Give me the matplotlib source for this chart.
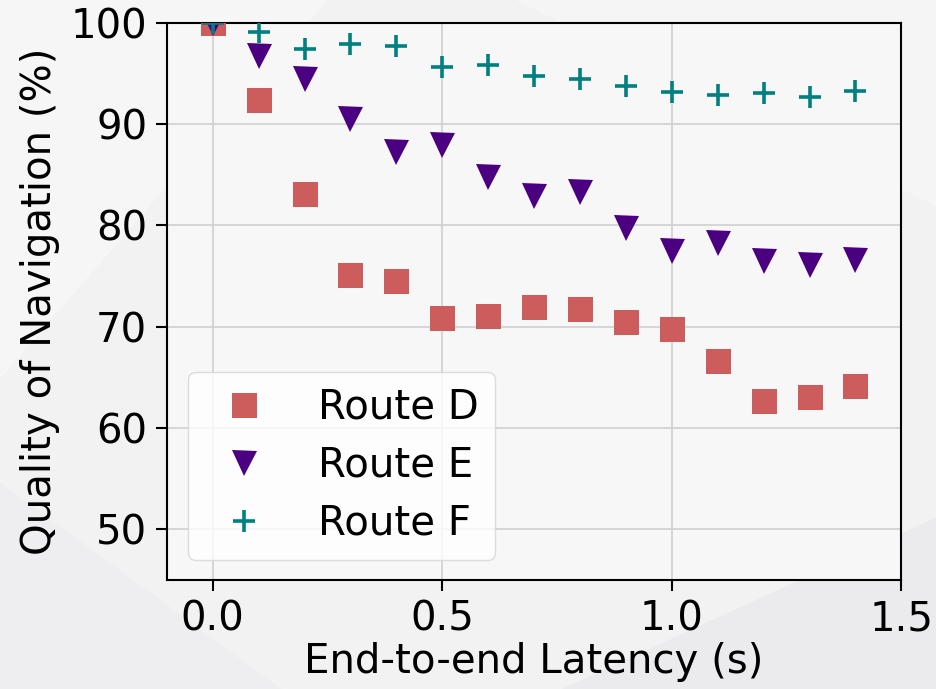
import matplotlib
matplotlib.use("Agg")
import matplotlib.pyplot as plt
from matplotlib.patches import Polygon

latency = [0.0, 0.1, 0.2, 0.3, 0.4, 0.5, 0.6, 0.7, 0.8, 0.9, 1.0, 1.1, 1.2, 1.3, 1.4]
route_d = [100.0, 92.4, 83.1, 75.1, 74.5, 70.9, 71.1, 72.0, 71.8, 70.5, 69.8, 66.6, 62.7, 63.1, 64.2]
route_e = [100.0, 96.7, 94.4, 90.5, 87.2, 87.9, 84.8, 82.9, 83.3, 79.7, 77.5, 78.3, 76.5, 76.1, 76.6]
route_f = [100.0, 99.1, 97.4, 97.9, 97.7, 95.6, 95.8, 94.7, 94.4, 93.8, 93.2, 92.9, 93.1, 92.7, 93.3]
labels = ["Route D", "Route E", "Route F"]
xticks = [0.0, 0.5, 1.0, 1.5]
yticks = [50, 60, 70, 80, 90, 100]

plt.rcParams['font.family'] = ['DejaVu Sans']
fig = plt.figure(figsize=(9.37, 6.89), dpi=100, facecolor='#f2f2f3')

# faint decorative background shapes
for pts, c in [([(0, 0.45), (0.35, 1.0), (0, 1.0)], '#f6f6f7'),
               ([(0, 0), (0, 0.3), (0.3, 0.0)], '#eeeef0'),
               ([(0.6, 0.0), (1.0, 0.0), (1.0, 0.25)], '#ebebed'),
               ([(0.55, 1.0), (1.0, 1.0), (1.0, 0.7)], '#f5f5f6')]:
    fig.patches.append(Polygon(pts, closed=True, transform=fig.transFigure,
                               facecolor=c, edgecolor='none', zorder=-10))

ax = fig.add_axes([0.178, 0.158, 0.784, 0.809])
ax.set_facecolor('#f7f7f8')

ax.plot(latency, route_d, linestyle='none', marker='s', markersize=18,
        color='#cd5c5c', markeredgewidth=0, label=labels[0], zorder=3)
ax.plot(latency, route_e, linestyle='none', marker='v', markersize=18,
        color='#4b0082', markeredgewidth=0, label=labels[1], zorder=3)
ax.plot(latency, route_f, linestyle='none', marker='+', markersize=16,
        color='#008080', markeredgewidth=2.6, label=labels[2], zorder=3)

ax.set_xlim(-0.1, 1.5)
ax.set_ylim(45, 100)
ax.set_xticks(xticks)
ax.set_xticklabels([f"{t:.1f}" for t in xticks])
ax.set_yticks(yticks)
ax.grid(True, color='#d0d0d2', linewidth=1.2, zorder=0)
ax.set_axisbelow(True)
ax.tick_params(axis='both', labelsize=29, length=8, width=1.5, direction='out', pad=6)
for s in ax.spines.values():
    s.set_linewidth(1.5)
    s.set_color('black')

ax.set_xlabel("End-to-end Latency (s)", fontsize=29, labelpad=2)
ax.set_ylabel("Quality of Navigation (%)", fontsize=29, labelpad=8)

leg = ax.legend(loc='lower left', fontsize=29, handletextpad=0.83, borderpad=0.4,
                labelspacing=0.45, framealpha=0.8, edgecolor='#d5d5d8',
                borderaxespad=0, bbox_to_anchor=(0.0286, 0.036))

fig.savefig("out.png", dpi=100, facecolor=fig.get_facecolor())
